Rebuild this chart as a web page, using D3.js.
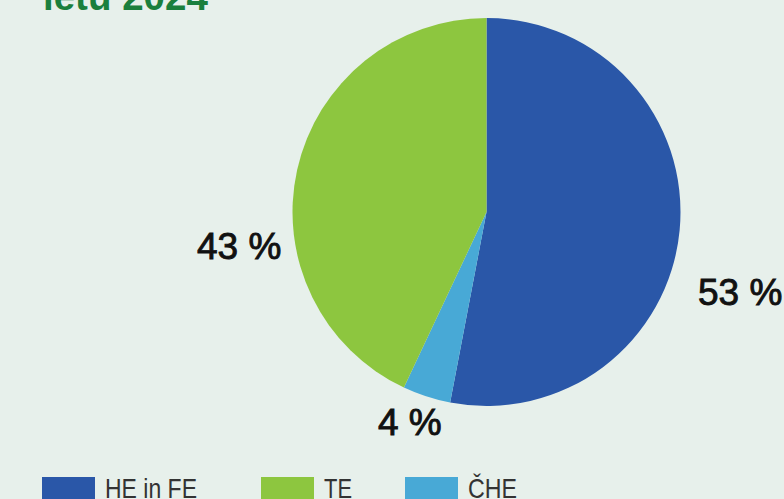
<!DOCTYPE html>
<html><head><meta charset="utf-8">
<script src="https://cdn.jsdelivr.net/npm/d3@7"></script>
<style>html,body{margin:0;padding:0;background:#e7f0eb;overflow:hidden}</style>
</head><body>
<svg id="chart" width="784" height="499"></svg>
<script>
const categories = ["HE in FE", "ČHE", "TE"];
const values = [53, 4, 43];
const colors = ["#2a57a8", "#48a9d6", "#8dc63f"];
const legendOrder = ["HE in FE", "TE", "ČHE"];
const titleText = "letu 2024";

const svg = d3.select("#chart");
svg.append("rect").attr("width",784).attr("height",499).attr("fill","#e7f0eb");

svg.append("text").attr("x",43).attr("y",10)
  .attr("font-family","Liberation Sans, Arial, sans-serif").attr("font-weight","bold")
  .attr("font-size",38.5).attr("fill","#1b7f3d").text(titleText);

const cx = 486.5, cy = 212, r = 194;
const color = d3.scaleOrdinal().domain(categories).range(colors);
const pie = d3.pie().sort(null).value(d => d.v);
const data = categories.map((c,i)=>({c, v: values[i]}));
const arcs = pie(data);
const arc = d3.arc().innerRadius(0).outerRadius(r);
const g = svg.append("g").attr("transform",`translate(${cx},${cy})`);
g.selectAll("path").data(arcs).enter().append("path")
  .attr("d",arc).attr("fill",d=>color(d.data.c));

const labelPos = {"HE in FE":[698,305], "ČHE":[378,435], "TE":[197,259]};
svg.selectAll("text.lbl").data(arcs).enter().append("text").attr("class","lbl")
  .attr("x",d=>labelPos[d.data.c][0]).attr("y",d=>labelPos[d.data.c][1])
  .attr("font-family","Liberation Sans, Arial, sans-serif")
  .attr("font-size",37).attr("fill","#111").attr("stroke","#111").attr("stroke-width",0.9)
  .text(d=>d.data.v+" %");

const legX = {"HE in FE":42, "TE":261, "ČHE":405};
const legW = {"HE in FE":92, "TE":28, "ČHE":49};
const lg = svg.selectAll("g.leg").data(legendOrder).enter().append("g").attr("class","leg")
  .attr("transform",d=>`translate(${legX[d]},477)`);
lg.append("rect").attr("width",53).attr("height",30).attr("fill",d=>color(d));
lg.append("text").attr("x",63).attr("y",21)
  .attr("font-family","Liberation Sans Narrow, Arial Narrow, sans-serif")
  .attr("font-size",28).attr("fill","#333")
  .attr("textLength",d=>legW[d]).attr("lengthAdjust","spacingAndGlyphs").text(d=>d);
</script>
</body></html>
